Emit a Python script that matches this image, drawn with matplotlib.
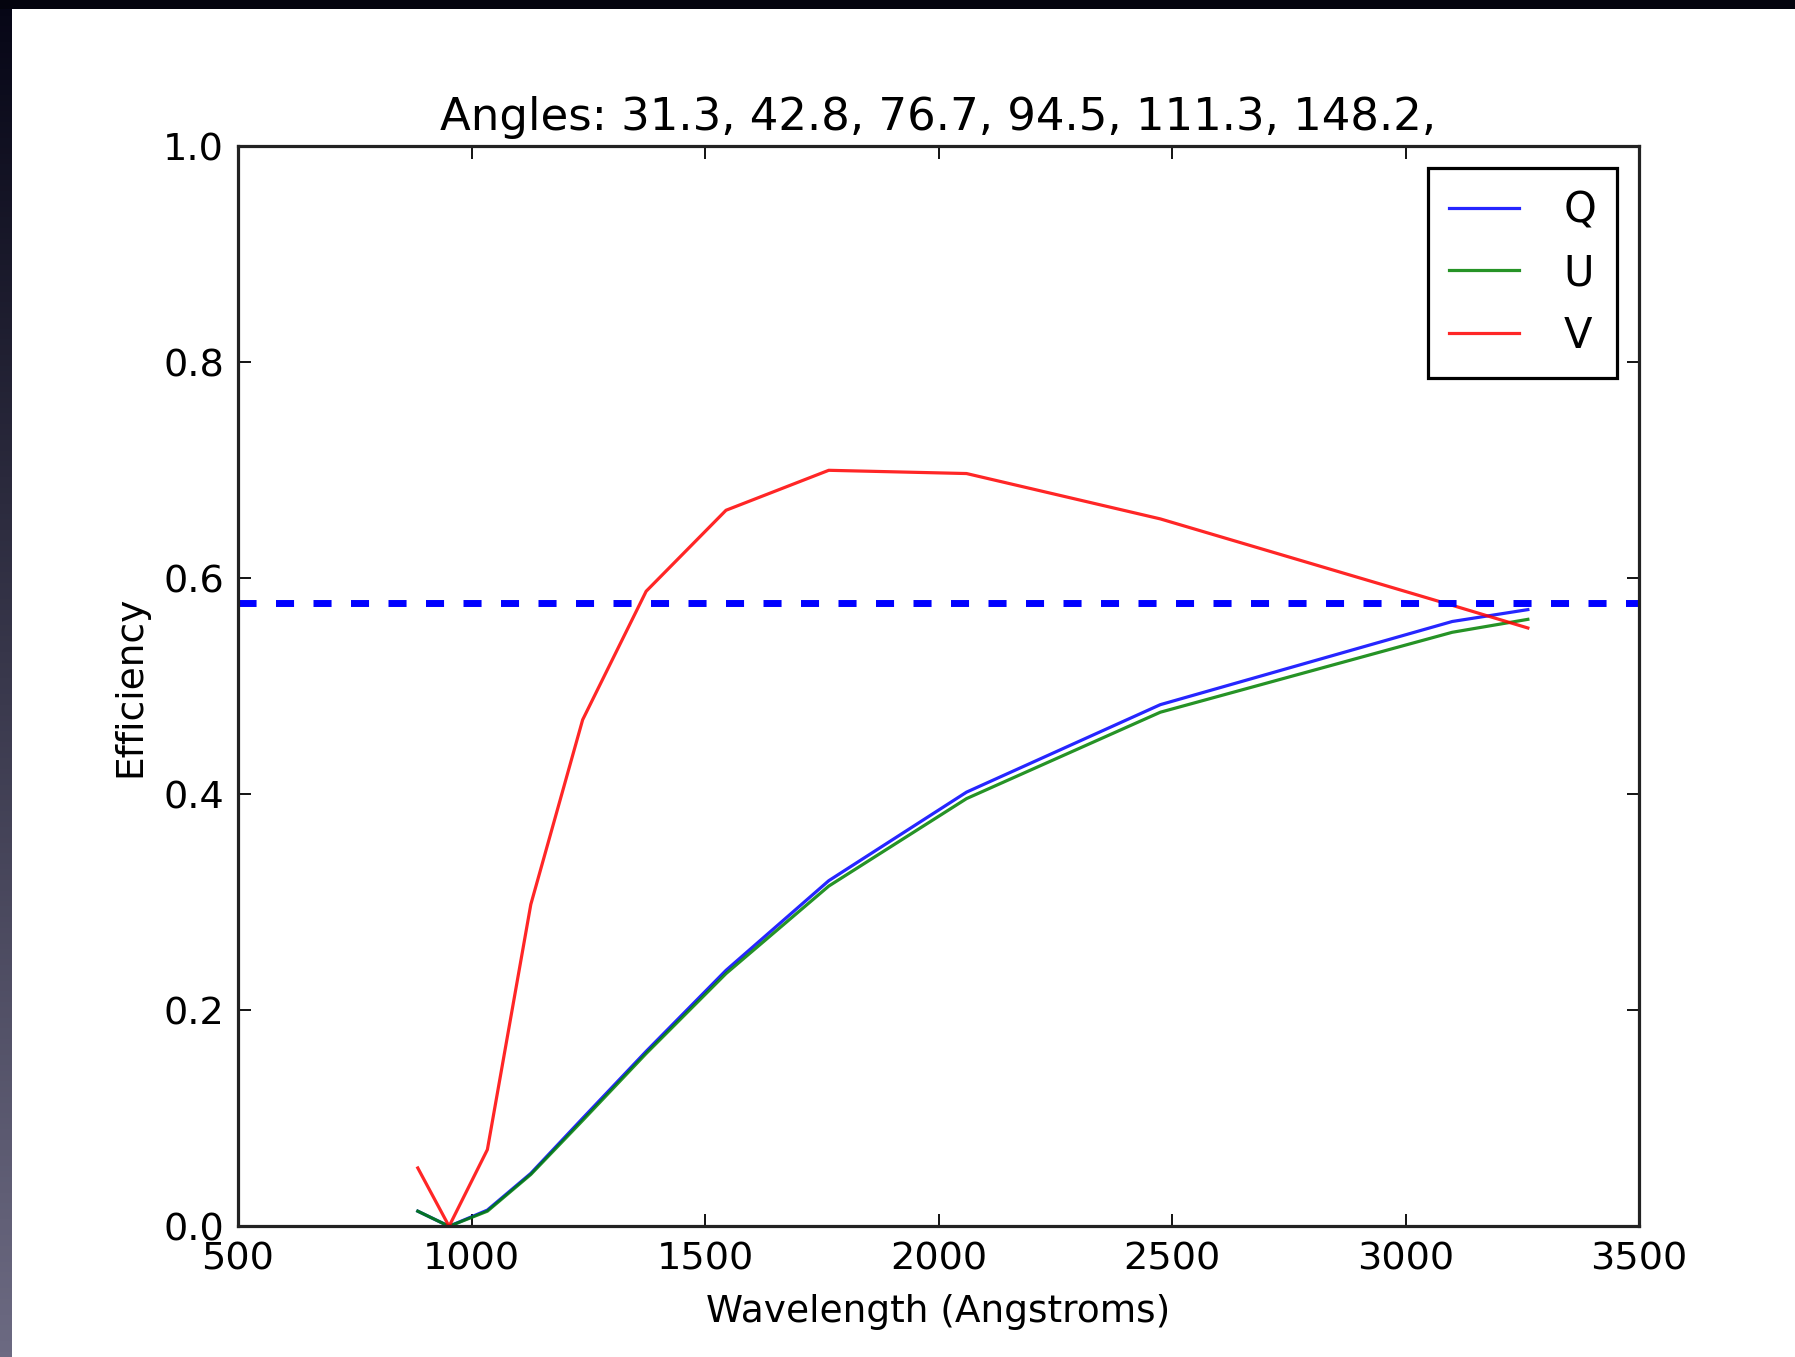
import numpy as np
import matplotlib
matplotlib.use("Agg")
import matplotlib.pyplot as plt

# ---- data ----
wavelength = [885, 952, 1034, 1127, 1238, 1374, 1545, 1765, 2060, 2475, 3100, 3262]
eff_Q = [0.014, 0.000, 0.015, 0.049, 0.100, 0.162, 0.237, 0.320, 0.402, 0.483, 0.560, 0.571]
eff_U = [0.014, 0.000, 0.014, 0.048, 0.098, 0.160, 0.234, 0.315, 0.396, 0.476, 0.550, 0.562]
eff_V = [0.054, 0.000, 0.071, 0.298, 0.469, 0.588, 0.663, 0.700, 0.697, 0.655, 0.575, 0.554]
reference_level = 0.577
angles = [31.3, 42.8, 76.7, 94.5, 111.3, 148.2]
series_labels = ["Q", "U", "V"]
x_ticks = [500, 1000, 1500, 2000, 2500, 3000, 3500]
y_ticks = [0.0, 0.2, 0.4, 0.6, 0.8, 1.0]

W, H, DPI = 1795, 1357, 100
FS = 27.5
LW = 2.3

plt.rcParams['font.family'] = ['DejaVu Sans']
fig = plt.figure(figsize=(W / DPI, H / DPI), dpi=DPI, facecolor='white')

# dark slide border (left and top)
left_w = 12 / W
top_h = 9 / H
axl = fig.add_axes([0, 0, left_w, 1])
grad = np.linspace(0, 1, 256)[:, None]
c_top = np.array([6, 6, 22]) / 255
c_bot = np.array([108, 106, 130]) / 255
img = c_top[None, None, :] * (1 - grad[:, :, None]) + c_bot[None, None, :] * grad[:, :, None]
axl.imshow(img, aspect='auto', extent=[0, 1, 0, 1], origin='upper')
axl.set_axis_off()
axt = fig.add_axes([0, 1 - top_h, 1, top_h])
axt.set_facecolor((4 / 255, 4 / 255, 14 / 255))
axt.set_xticks([]); axt.set_yticks([])
for s in axt.spines.values():
    s.set_visible(False)

ax = fig.add_axes([238 / W, 1 - 1226.3 / H, (1639 - 238) / W, (1226.3 - 146.3) / H])

colors = ['#0000ff', '#008000', '#ff0000']
for vals, lab, col in zip([eff_Q, eff_U, eff_V], series_labels, colors):
    ax.plot(wavelength, vals, color=col, lw=LW, label=lab, alpha=0.85)

dlw = 5.0
ax.axhline(reference_level, color='#0000ff', lw=dlw, linestyle=(0, (13 / dlw, 14 / dlw)))

ax.set_xlim(500, 3500)
ax.set_ylim(0, 1.0)
ax.set_xticks(x_ticks)
ax.set_yticks(y_ticks)
ax.set_xticklabels([str(v) for v in x_ticks])
ax.set_yticklabels([f"{v:.1f}" for v in y_ticks])
ax.tick_params(direction='in', length=9, width=1.3, top=True, right=True,
               labelsize=FS, pad=11, colors='black')
ax.tick_params(axis='y', pad=10)
for s in ax.spines.values():
    s.set_linewidth(LW)
    s.set_color('#222222')

ax.set_title("Angles: " + "".join(f"{a}, " for a in angles).rstrip(' '), fontsize=32.4, pad=12)
ax.set_xlabel("Wavelength (Angstroms)", fontsize=27, labelpad=12)
ax.set_ylabel("Efficiency", fontsize=27, labelpad=11)

leg = ax.legend(loc='upper right', fontsize=30, frameon=True, fancybox=False,
                handlelength=1.7, handletextpad=1.05, borderpad=0.5,
                labelspacing=0.5, borderaxespad=0.53)
leg.get_frame().set_edgecolor('black')
leg.get_frame().set_linewidth(LW)
leg.get_frame().set_alpha(1)

fig.savefig("out.png", dpi=DPI, facecolor='white')
